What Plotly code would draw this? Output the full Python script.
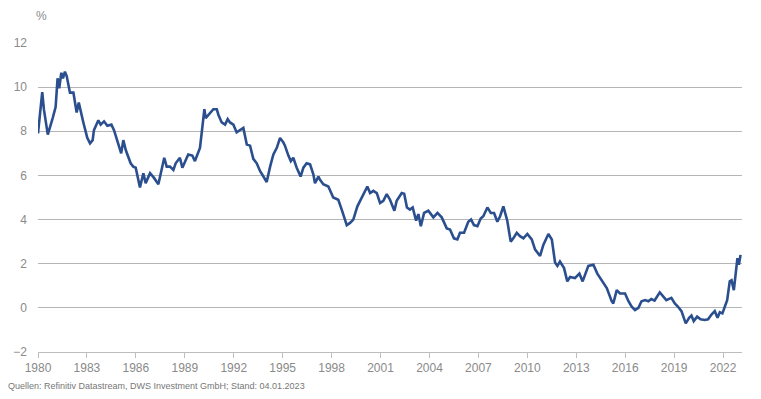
import plotly.graph_objects as go

years = [1980.0, 1980.26, 1980.36, 1980.6, 1980.9, 1981.08, 1981.2, 1981.3, 1981.43, 1981.53,
         1981.65, 1981.76, 1981.96, 1982.17, 1982.37, 1982.5, 1982.78, 1983.02, 1983.19, 1983.35,
         1983.43, 1983.7, 1983.84, 1984.05, 1984.25, 1984.5, 1984.66, 1984.97, 1985.1, 1985.23,
         1985.38, 1985.68, 1985.84, 1985.99, 1986.25, 1986.46, 1986.6, 1986.87, 1987.1, 1987.38,
         1987.54, 1987.74, 1987.89, 1988.09, 1988.3, 1988.44, 1988.7, 1988.85, 1989.21, 1989.46,
         1989.62, 1989.93, 1990.07, 1990.2, 1990.28, 1990.44, 1990.75, 1990.96, 1991.06, 1991.26,
         1991.47, 1991.63, 1991.77, 1991.98, 1992.18, 1992.59, 1992.8, 1993.0, 1993.2, 1993.41,
         1993.61, 1993.82, 1994.02, 1994.23, 1994.43, 1994.64, 1994.84, 1995.04, 1995.14, 1995.35,
         1995.5, 1995.65, 1995.86, 1996.1, 1996.27, 1996.47, 1996.68, 1996.88, 1996.98, 1997.19,
         1997.29, 1997.49, 1997.8, 1998.1, 1998.41, 1998.62, 1998.82, 1998.93, 1999.13, 1999.33,
         1999.58, 1999.85, 2000.05, 2000.19, 2000.36, 2000.56, 2000.77, 2000.97, 2001.17, 2001.38,
         2001.58, 2001.85, 2001.99, 2002.3, 2002.45, 2002.62, 2002.8, 2002.97, 2003.18, 2003.32,
         2003.47, 2003.67, 2003.93, 2004.24, 2004.49, 2004.75, 2005.06, 2005.26, 2005.5, 2005.71,
         2005.87, 2006.12, 2006.38, 2006.55, 2006.73, 2006.94, 2007.14, 2007.3, 2007.55, 2007.76,
         2007.96, 2008.16, 2008.33, 2008.53, 2008.77, 2008.98, 2009.14, 2009.35, 2009.55, 2009.76,
         2010.0, 2010.27, 2010.47, 2010.78, 2010.98, 2011.29, 2011.5, 2011.7, 2011.84, 2012.0,
         2012.25, 2012.45, 2012.62, 2012.92, 2013.19, 2013.39, 2013.74, 2014.05, 2014.29, 2014.56,
         2014.87, 2015.17, 2015.27, 2015.48, 2015.68, 2015.99, 2016.2, 2016.4, 2016.6, 2016.81,
         2017.0, 2017.22, 2017.42, 2017.6, 2017.8, 2018.12, 2018.32, 2018.52, 2018.83, 2019.04,
         2019.24, 2019.45, 2019.71, 2019.92, 2020.06, 2020.2, 2020.41, 2020.62, 2020.88, 2021.08,
         2021.29, 2021.49, 2021.66, 2021.8, 2021.96, 2022.1, 2022.25, 2022.41, 2022.52, 2022.66,
         2022.78, 2022.88, 2022.97, 2023.07]

yields = [7.9, 9.77, 9.0, 7.85, 8.6, 9.1, 10.4, 9.95, 10.65, 10.4,
          10.7, 10.5, 9.75, 9.75, 8.85, 9.3, 8.4, 7.7, 7.45, 7.6,
          8.05, 8.5, 8.3, 8.45, 8.25, 8.3, 8.05, 7.25, 7.0, 7.6,
          7.15, 6.55, 6.4, 6.35, 5.45, 6.1, 5.65, 6.1, 5.9, 5.6,
          6.2, 6.8, 6.4, 6.4, 6.25, 6.55, 6.8, 6.35, 6.95, 6.9,
          6.65, 7.25, 8.15, 9.0, 8.6, 8.75, 9.0, 9.0, 8.75, 8.4,
          8.3, 8.55, 8.4, 8.3, 7.95, 8.15, 7.4, 7.35, 6.75, 6.55,
          6.2, 5.95, 5.7, 6.4, 6.95, 7.25, 7.7, 7.5, 7.35, 6.9,
          6.65, 6.8, 6.35, 5.95, 6.35, 6.55, 6.5, 6.05, 5.65, 5.95,
          5.8, 5.6, 5.5, 5.0, 4.9, 4.45, 4.0, 3.75, 3.85, 4.0,
          4.6, 5.0, 5.3, 5.5, 5.2, 5.3, 5.2, 4.75, 4.85, 5.15,
          4.9, 4.4, 4.85, 5.2, 5.17, 4.55, 4.45, 4.55, 3.95, 4.25,
          3.7, 4.3, 4.4, 4.1, 4.3, 4.1, 3.6, 3.55, 3.15, 3.1,
          3.4, 3.4, 3.9, 4.0, 3.75, 3.7, 4.05, 4.15, 4.55, 4.3,
          4.3, 3.9, 4.15, 4.6, 3.95, 3.0, 3.15, 3.4, 3.25, 3.15,
          3.35, 3.1, 2.65, 2.35, 2.85, 3.35, 3.1, 2.05, 1.9, 2.1,
          1.8, 1.2, 1.4, 1.35, 1.55, 1.2, 1.9, 1.95, 1.55, 1.25,
          0.9, 0.3, 0.2, 0.8, 0.65, 0.65, 0.3, 0.05, -0.1, 0.0,
          0.3, 0.35, 0.3, 0.4, 0.33, 0.7, 0.5, 0.35, 0.45, 0.2,
          0.05, -0.15, -0.7, -0.45, -0.35, -0.6, -0.4, -0.52, -0.55, -0.52,
          -0.3, -0.15, -0.45, -0.2, -0.25, 0.07, 0.35, 1.2, 1.25, 0.8,
          1.8, 2.25, 1.95, 2.4]

x_ticks = [1980, 1983, 1986, 1989, 1992, 1995, 1998, 2001, 2004, 2007, 2010, 2013, 2016, 2019, 2022]
y_ticks = [-2, 0, 2, 4, 6, 8, 10, 12]
source_text = "Quellen: Refinitiv Datastream, DWS Investment GmbH; Stand: 04.01.2023"

FONT = "Liberation Sans, Arial, sans-serif"
GREY = "#8a8a8a"

fig = go.Figure()
fig.add_trace(go.Scatter(x=years, y=yields, mode="lines",
                         line=dict(color="#2b4f8e", width=2.6),
                         hoverinfo="skip", showlegend=False))

# the page body adds an 8px offset; size the figure so the plot area lands where the reference has it
fig.update_layout(
    width=753, height=391,
    margin=dict(l=30, r=19, t=35, b=47),
    paper_bgcolor="white", plot_bgcolor="white",
    font=dict(family=FONT, size=12, color=GREY),
    xaxis=dict(range=[1980, 2023.16], tickvals=x_ticks, ticktext=[str(t) for t in x_ticks],
               showgrid=False, zeroline=False, showline=True, linecolor="#bdbdbd", linewidth=1,
               ticks="outside", ticklen=5, tickcolor="#bdbdbd", tickwidth=1, automargin=False,
               tickfont=dict(size=12, color=GREY)),
    yaxis=dict(range=[-2, 12], tickvals=y_ticks, showgrid=True, gridcolor="#b5b5b5",
               gridwidth=1, zeroline=False, showline=False, ticks="", ticklabelstandoff=10,
               automargin=False, tickfont=dict(size=12, color=GREY)),
    annotations=[
        dict(text="%", x=0, xref="paper", xanchor="left", xshift=-4, y=12, yref="y",
             yshift=27, yanchor="middle", showarrow=False, font=dict(size=12, color=GREY)),
        dict(text=source_text, x=0, xref="paper", xanchor="left", xshift=-32, y=-2, yref="y",
             yshift=-34, yanchor="middle", showarrow=False, font=dict(size=9, color="#777777")),
    ],
)

fig.write_html("out.html")
